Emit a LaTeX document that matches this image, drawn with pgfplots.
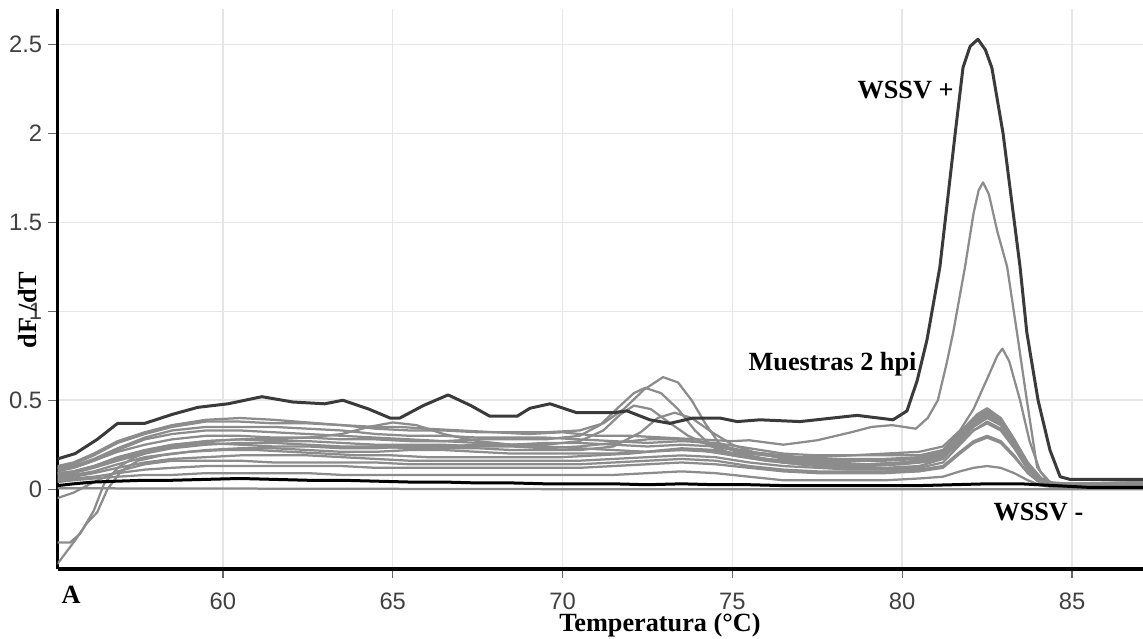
\documentclass[border=0pt]{standalone}
\usepackage{fontspec}
\setmainfont{Liberation Serif}
\newfontfamily\ticksf{Liberation Sans}
\usepackage{pgfplots}
\pgfplotsset{compat=1.18}
\definecolor{curvegray}{HTML}{8C8C8C}
\definecolor{posdark}{HTML}{3A3A3A}
\definecolor{gridc}{HTML}{E6E6E6}
\begin{document}
\begin{tikzpicture}
\begin{axis}[
  scale only axis, width=434.2pt, height=224pt,
  xmin=55.13, xmax=87.09, ymin=-0.449, ymax=2.70,
  axis x line=bottom, axis y line=left,
  axis line style={-, black, line width=1.3pt},
  xtick={60,65,70,75,80,85}, ytick={0,0.5,1,1.5,2,2.5},
  tick align=outside, major tick length=3.6pt,
  tick style={black!60, line width=0.5pt},
  grid=major, major grid style={gridc, line width=0.6pt},
  /pgf/number format/assume math mode=true,
  tick label style={font=\fontsize{9.5}{11}\ticksf\color{black!75}},
  xticklabel style={yshift=-2.4pt},
  yticklabel style={xshift=1pt},
  xlabel={Temperatura (°C)},
  xlabel style={font=\fontsize{10.5}{12}\selectfont\bfseries, at={(axis description cs:0.555,0)}, anchor=base, yshift=-24.8pt},
  ylabel={dF /dT},
  ylabel style={font=\fontsize{10.5}{12}\selectfont\bfseries, at={(axis description cs:-0.028,0.4625)}, anchor=center},
  every axis plot/.append style={line join=round},
]
\coordinate (bl) at (rel axis cs:0,0);
% gray zero line
\addplot[curvegray, line width=0.9pt] coordinates {(55.13,0.005)(70,0.0)(87.09,0.0)};
% gray sample curves
\addplot[curvegray, line width=0.9pt] coordinates {(55.13,0.12)(55.6,0.14)(56.2,0.19)(56.9,0.26)(57.7,0.31)(58.5,0.35)(59.5,0.38)(60.5,0.38)(61.5,0.37)(62.5,0.37)(63.5,0.36)(64.5,0.35)(65.2,0.35)(66,0.34)(67,0.33)(68,0.32)(69,0.31)(70,0.32)(71,0.30)(72,0.30)(73,0.29)(74,0.28)(75,0.27)(75.5,0.275)(76.5,0.25)(77.5,0.275)(78.5,0.32)(79.1,0.35)(79.7,0.36)(80.4,0.34)(80.75,0.40)(81.05,0.5)(81.3,0.7)(81.5,0.88)(81.85,1.25)(82.1,1.55)(82.25,1.68)(82.38,1.725)(82.55,1.66)(82.8,1.45)(83.09,1.25)(83.38,0.88)(83.67,0.5)(83.97,0.125)(84.3,0.04)(85,0.03)(87.09,0.03)};
\addplot[curvegray, line width=0.9pt] coordinates {(55.13,0.10)(55.6,0.12)(56.2,0.16)(56.9,0.22)(57.7,0.28)(58.5,0.31)(59.5,0.33)(60.5,0.33)(61.5,0.32)(62.5,0.31)(63.5,0.30)(64.5,0.29)(65.5,0.28)(66.5,0.27)(67.5,0.26)(68.5,0.25)(69.5,0.24)(70.5,0.23)(71.5,0.22)(72.5,0.21)(73.5,0.22)(74.5,0.21)(75.5,0.20)(76.5,0.18)(77.5,0.18)(78.5,0.19)(79.5,0.20)(80.5,0.21)(81.2,0.24)(81.7,0.33)(82.1,0.45)(82.5,0.62)(82.8,0.75)(82.95,0.79)(83.15,0.72)(83.47,0.5)(83.75,0.27)(84.06,0.10)(84.4,0.03)(85,0.03)(87.09,0.04)};
\addplot[curvegray, line width=0.9pt] coordinates {(55.13,0.13)(55.6,0.15)(56.2,0.20)(56.9,0.27)(57.7,0.32)(58.5,0.36)(59.5,0.39)(60.5,0.40)(61.5,0.39)(62.5,0.375)(63.5,0.36)(64.5,0.34)(65.5,0.33)(66.5,0.33)(67.5,0.32)(68.5,0.32)(69.5,0.32)(70.5,0.33)(71.2,0.37)(71.8,0.45)(72.4,0.56)(72.96,0.63)(73.4,0.60)(73.8,0.50)(74.2,0.37)(74.6,0.26)(75.2,0.20)(76,0.17)(77,0.15)(78,0.15)(79,0.16)(80,0.17)(80.8,0.18)(81.3,0.22)(81.8,0.33)(82.2,0.42)(82.5,0.455)(82.9,0.40)(83.3,0.28)(83.7,0.15)(84.1,0.06)(84.5,0.03)(87.09,0.04)};
\addplot[curvegray, line width=0.9pt] coordinates {(55.13,0.11)(55.6,0.12)(56.2,0.16)(56.9,0.21)(57.7,0.25)(58.5,0.28)(59.5,0.30)(60.5,0.30)(61.5,0.29)(62.5,0.29)(63.5,0.28)(64.5,0.28)(65.5,0.27)(66.5,0.27)(67.5,0.28)(68.5,0.28)(69.5,0.28)(70.5,0.30)(71.1,0.36)(71.7,0.47)(72.1,0.54)(72.43,0.57)(72.9,0.54)(73.4,0.45)(73.9,0.33)(74.4,0.24)(75,0.19)(76,0.16)(77,0.14)(78,0.13)(79,0.14)(80,0.15)(80.8,0.16)(81.3,0.2)(81.8,0.31)(82.2,0.40)(82.5,0.43)(82.9,0.38)(83.3,0.27)(83.7,0.14)(84.1,0.06)(84.5,0.03)(87.09,0.035)};
\addplot[curvegray, line width=0.9pt] coordinates {(55.13,0.09)(55.6,0.10)(56.2,0.13)(56.9,0.18)(57.7,0.22)(58.5,0.25)(59.5,0.27)(60.5,0.28)(61.5,0.28)(62.5,0.29)(63.5,0.31)(64.3,0.35)(65,0.375)(65.7,0.36)(66.5,0.31)(67.5,0.27)(68.5,0.25)(69.5,0.25)(70.5,0.27)(71.2,0.33)(71.7,0.42)(72.1,0.47)(72.6,0.45)(73.1,0.38)(73.7,0.30)(74.4,0.24)(75,0.2)(76,0.17)(77,0.15)(78,0.14)(79,0.14)(80,0.15)(80.8,0.17)(81.3,0.21)(81.8,0.32)(82.2,0.40)(82.5,0.44)(82.9,0.39)(83.3,0.27)(83.7,0.14)(84.1,0.05)(84.5,0.02)(87.09,0.03)};
\addplot[curvegray, line width=0.9pt] coordinates {(55.13,0.08)(55.6,0.09)(56.2,0.12)(56.9,0.16)(57.7,0.20)(58.5,0.23)(59.5,0.25)(60.5,0.26)(61.5,0.26)(62.5,0.25)(63.5,0.24)(64.5,0.24)(65.5,0.23)(66.5,0.23)(67.5,0.23)(68.5,0.22)(69.5,0.22)(70.5,0.22)(71.5,0.24)(72.3,0.32)(72.8,0.40)(73.3,0.43)(73.8,0.40)(74.4,0.32)(75,0.25)(75.6,0.21)(76.5,0.17)(77.5,0.15)(78.5,0.14)(79.5,0.14)(80.5,0.15)(81.2,0.18)(81.7,0.28)(82.1,0.36)(82.5,0.41)(82.9,0.37)(83.3,0.26)(83.7,0.13)(84.1,0.05)(84.5,0.02)(87.09,0.03)};
\addplot[curvegray, line width=0.9pt] coordinates {(55.13,0.07)(55.6,0.08)(56.2,0.10)(56.9,0.14)(57.7,0.18)(58.5,0.20)(59.5,0.22)(60.5,0.23)(61.5,0.23)(62.5,0.22)(63.5,0.21)(64.5,0.21)(65.5,0.22)(66.5,0.22)(67.5,0.21)(68.5,0.20)(69.5,0.20)(70.5,0.20)(71.5,0.20)(72.5,0.21)(73.5,0.23)(74.5,0.22)(75.5,0.18)(76.5,0.15)(77.5,0.13)(78.5,0.12)(79.5,0.12)(80.5,0.13)(81.2,0.17)(81.7,0.27)(82.1,0.35)(82.5,0.40)(82.9,0.36)(83.3,0.25)(83.7,0.12)(84.1,0.04)(84.5,0.02)(87.09,0.03)};
\addplot[curvegray, line width=0.9pt] coordinates {(55.13,0.06)(55.6,0.07)(56.2,0.09)(56.9,0.12)(57.7,0.15)(58.5,0.17)(59.5,0.18)(60.5,0.19)(61.5,0.19)(62.5,0.19)(63.5,0.18)(64.5,0.17)(65.5,0.16)(66.5,0.16)(67.5,0.16)(68.5,0.16)(69.5,0.16)(70.5,0.16)(71.5,0.17)(72.5,0.18)(73.5,0.19)(74.5,0.18)(75.5,0.15)(76.5,0.13)(77.5,0.12)(78.5,0.11)(79.5,0.11)(80.5,0.12)(81.2,0.15)(81.7,0.25)(82.1,0.33)(82.5,0.38)(82.9,0.34)(83.3,0.24)(83.7,0.11)(84.1,0.04)(84.5,0.02)(87.09,0.025)};
\addplot[curvegray, line width=0.9pt] coordinates {(55.13,0.05)(55.6,0.06)(56.2,0.07)(56.9,0.09)(57.7,0.11)(58.5,0.12)(59.5,0.13)(60.5,0.13)(61.5,0.13)(62.5,0.13)(63.5,0.13)(64.5,0.12)(65.5,0.12)(66.5,0.12)(67.5,0.12)(68.5,0.12)(69.5,0.12)(70.5,0.12)(71.5,0.13)(72.5,0.14)(73.5,0.15)(74.5,0.14)(75.5,0.12)(76.5,0.10)(77.5,0.09)(78.5,0.09)(79.5,0.09)(80.5,0.10)(81.2,0.12)(81.7,0.20)(82.1,0.26)(82.5,0.29)(82.9,0.26)(83.3,0.18)(83.7,0.09)(84.1,0.03)(84.5,0.02)(87.09,0.02)};
\addplot[curvegray, line width=0.9pt] coordinates {(55.13,0.04)(55.6,0.05)(56.2,0.06)(56.9,0.07)(57.7,0.08)(58.5,0.08)(59.5,0.09)(60.5,0.09)(61.5,0.09)(62.5,0.09)(63.5,0.08)(64.5,0.08)(65.5,0.08)(66.5,0.08)(67.5,0.08)(68.5,0.08)(69.5,0.08)(70.5,0.08)(71.5,0.08)(72.5,0.09)(73.5,0.10)(74.5,0.09)(75.5,0.07)(76.5,0.05)(77.5,0.05)(78.5,0.05)(79.5,0.05)(80.5,0.06)(81.2,0.07)(81.7,0.10)(82.1,0.12)(82.5,0.13)(82.9,0.12)(83.3,0.09)(83.7,0.05)(84.1,0.02)(84.5,0.01)(87.09,0.01)};
\addplot[curvegray, line width=0.9pt] coordinates {(55.13,-0.30)(55.5,-0.30)(55.8,-0.25)(56.2,-0.12)(56.5,0.03)(56.9,0.12)(57.4,0.18)(58,0.22)(58.8,0.25)(59.5,0.27)(60.5,0.28)(61.5,0.27)(62.5,0.27)(63.5,0.26)(64.5,0.25)(65.5,0.25)(66.5,0.25)(67.5,0.24)(68.5,0.24)(69.5,0.23)(70.5,0.24)(71.5,0.26)(72.5,0.28)(73.5,0.28)(74.5,0.25)(75.5,0.21)(76.5,0.19)(77.5,0.17)(78.5,0.17)(79.5,0.17)(80.5,0.18)(81.2,0.21)(81.7,0.31)(82.1,0.38)(82.5,0.42)(82.9,0.38)(83.3,0.27)(83.7,0.14)(84.1,0.05)(84.5,0.02)(87.09,0.03)};
\addplot[curvegray, line width=0.9pt] coordinates {(55.13,-0.42)(55.64,-0.29)(56.0,-0.19)(56.3,-0.13)(56.6,0.0)(57.0,0.10)(57.5,0.16)(58.2,0.19)(59,0.21)(60,0.22)(61,0.22)(62,0.21)(63,0.20)(64,0.19)(65,0.19)(66,0.18)(67,0.18)(68,0.18)(69,0.18)(70,0.18)(71,0.19)(72,0.20)(73,0.22)(74,0.22)(75,0.19)(76,0.16)(77,0.14)(78,0.13)(79,0.13)(80,0.14)(81,0.16)(81.6,0.24)(82.1,0.33)(82.5,0.37)(82.9,0.33)(83.3,0.23)(83.7,0.11)(84.1,0.04)(84.5,0.02)(87.09,0.02)};
\addplot[curvegray, line width=0.9pt] coordinates {(55.13,-0.05)(55.6,-0.02)(56.2,0.04)(56.9,0.10)(57.7,0.14)(58.5,0.16)(59.5,0.16)(60.5,0.16)(61.5,0.15)(62.5,0.15)(63.5,0.15)(64.5,0.15)(65.5,0.14)(66.5,0.14)(67.5,0.14)(68.5,0.14)(69.5,0.14)(70.5,0.14)(71.5,0.15)(72.5,0.16)(73.5,0.17)(74.5,0.16)(75.5,0.13)(76.5,0.11)(77.5,0.10)(78.5,0.10)(79.5,0.10)(80.5,0.11)(81.2,0.13)(81.7,0.21)(82.1,0.27)(82.5,0.30)(82.9,0.27)(83.3,0.19)(83.7,0.09)(84.1,0.03)(84.5,0.01)(87.09,0.02)};
\addplot[curvegray, line width=0.9pt] coordinates {(55.13,0.12)(55.6,0.13)(56.2,0.17)(56.9,0.23)(57.7,0.29)(58.5,0.33)(59.5,0.35)(60.5,0.35)(61.5,0.35)(62.5,0.34)(63.5,0.33)(64.5,0.31)(65.5,0.30)(66.5,0.30)(67.5,0.29)(68.5,0.29)(69.5,0.29)(70.5,0.28)(71.5,0.27)(72.5,0.26)(73.5,0.27)(74.5,0.26)(75.5,0.23)(76.5,0.20)(77.5,0.19)(78.5,0.19)(79.5,0.19)(80.5,0.19)(81.2,0.22)(81.7,0.32)(82.1,0.40)(82.5,0.44)(82.9,0.40)(83.3,0.28)(83.7,0.14)(84.1,0.05)(84.5,0.02)(87.09,0.035)};
\addplot[curvegray, line width=0.9pt] coordinates {(55.13,0.09)(55.6,0.10)(56.2,0.13)(56.9,0.17)(57.7,0.21)(58.5,0.24)(59.5,0.26)(60.5,0.25)(61.5,0.24)(62.5,0.24)(63.5,0.23)(64.5,0.23)(65.5,0.24)(66.5,0.24)(67.5,0.25)(68.5,0.25)(69.5,0.26)(70.5,0.26)(71.5,0.25)(72.5,0.24)(73.5,0.25)(74.5,0.24)(75.5,0.20)(76.5,0.18)(77.5,0.16)(78.5,0.16)(79.5,0.16)(80.5,0.17)(81.2,0.2)(81.7,0.3)(82.1,0.37)(82.5,0.41)(82.9,0.37)(83.3,0.26)(83.7,0.13)(84.1,0.05)(84.5,0.02)(87.09,0.03)};
% WSSV - (negative control)
\addplot[black, line width=1.2pt] coordinates {(55.13,0.02)(55.6,0.03)(56.2,0.04)(56.9,0.045)(57.7,0.05)(58.5,0.05)(59.5,0.055)(60.5,0.06)(61.5,0.055)(62.5,0.05)(63.5,0.05)(64.5,0.045)(65.5,0.04)(66.5,0.04)(67.5,0.035)(68.5,0.035)(69.5,0.03)(70.5,0.03)(71.5,0.03)(72.5,0.025)(73.5,0.03)(74.5,0.025)(75.5,0.025)(76.5,0.02)(77.5,0.02)(78.5,0.02)(79.5,0.02)(80.5,0.02)(81.5,0.025)(82.5,0.03)(83.5,0.03)(84.5,0.02)(85.5,0.01)(86.5,0.01)(87.09,0.01)};
% WSSV + (positive control)
\addplot[posdark, line width=1.2pt] coordinates {(55.13,0.17)(55.65,0.20)(56.3,0.28)(56.9,0.37)(57.7,0.37)(58.5,0.42)(59.26,0.46)(60.15,0.48)(61.15,0.52)(62.06,0.49)(63.0,0.48)(63.53,0.50)(64.3,0.45)(64.92,0.40)(65.21,0.40)(65.9,0.47)(66.63,0.53)(67.3,0.47)(67.86,0.41)(68.66,0.41)(69.04,0.455)(69.63,0.48)(70.42,0.43)(71.48,0.43)(71.9,0.44)(72.57,0.39)(73.16,0.37)(73.84,0.40)(74.63,0.40)(75.14,0.38)(75.81,0.39)(76.99,0.38)(78.67,0.415)(79.73,0.39)(80.14,0.44)(80.44,0.61)(80.73,0.84)(81.11,1.25)(81.56,2.0)(81.79,2.37)(82.0,2.49)(82.23,2.53)(82.45,2.47)(82.64,2.37)(82.97,2.0)(83.47,1.25)(83.67,0.88)(84.0,0.50)(84.35,0.22)(84.65,0.07)(84.94,0.055)(87.09,0.055)};
\node[font=\fontsize{10.5}{12}\selectfont\bfseries, anchor=base] at (axis cs:80.1,2.197) {WSSV +};
\node[font=\fontsize{10.5}{12}\selectfont\bfseries, anchor=base] at (axis cs:77.95,0.669) {Muestras 2 hpi};
\node[font=\fontsize{10.5}{12}\selectfont\bfseries, anchor=base] at (axis cs:84.01,-0.174) {WSSV -};
\end{axis}
\node[font=\fontsize{10.5}{12}\selectfont\bfseries, anchor=base, xshift=5.4pt, yshift=-13.6pt] at (bl) {A};
\pgfresetboundingbox
\path[use as bounding box] (bl) ++(-23pt,-27.6pt) rectangle ++(457.2pt,255.2pt);
\end{tikzpicture}
\end{document}
